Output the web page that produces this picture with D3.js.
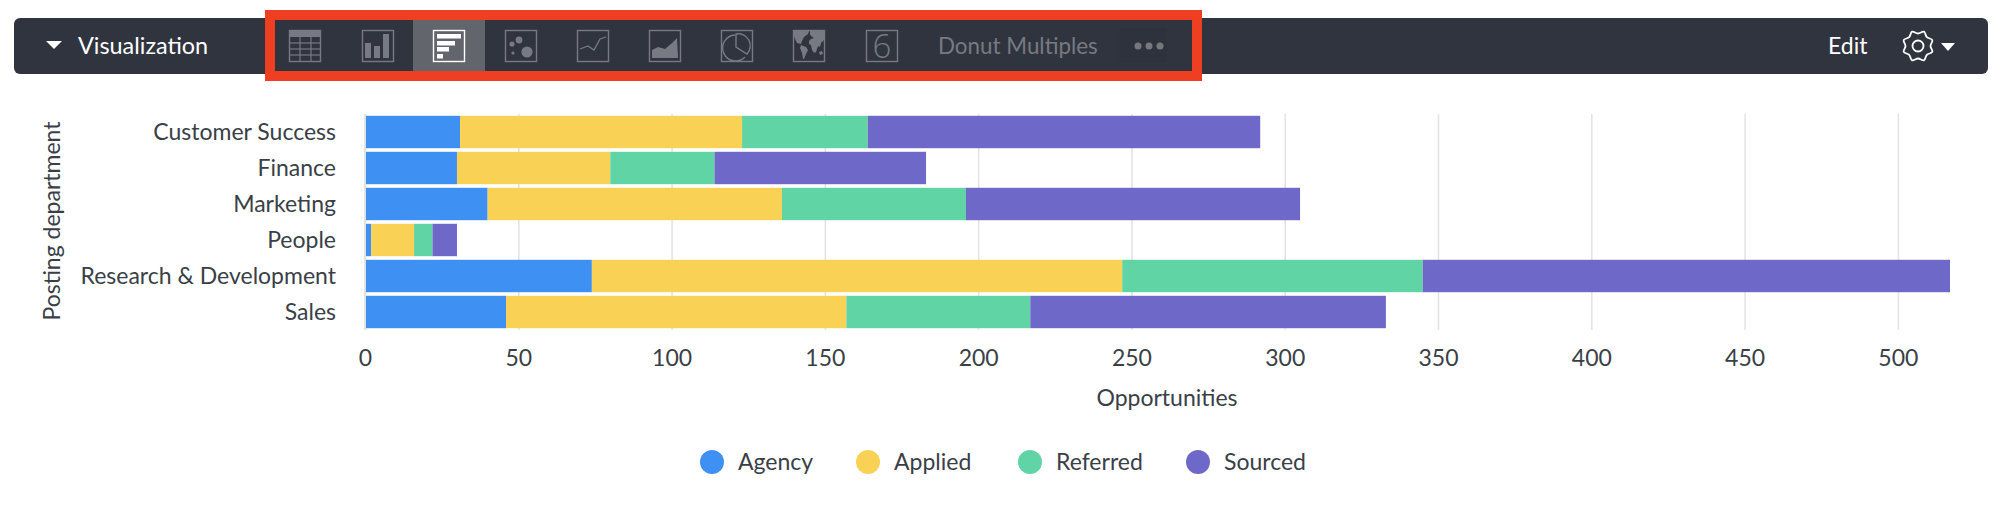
<!DOCTYPE html>
<html><head><meta charset="utf-8">
<script src="https://cdn.jsdelivr.net/npm/d3@7/dist/d3.min.js"></script>
<style>html,body{margin:0;padding:0;background:#fff}svg{display:block}text{font-family:Lato,"Open Sans",sans-serif}</style>
</head><body><svg id="c" width="2001" height="509"></svg>
<script>
const departments=["Customer Success","Finance","Marketing","People","Research & Development","Sales"];
const seriesNames=["Agency","Applied","Referred","Sourced"];
const agency=[31,30,40,2,74,46];
const applied=[92,50,96,14,173,111];
const referred=[41,34,60,6,98,60];
const sourced=[128,69,109,8,172,116];
const xTicks=[0,50,100,150,200,250,300,350,400,450,500];
const colors=["#3E91F3","#F9D255","#60D4A4","#6E69C9"];
const toolbarLabel="Visualization", extraLabel="Donut Multiples", editLabel="Edit";
const xTitle="Opportunities", yTitle="Posting department";

const svg=d3.select("#c");
const ink="#3A3F47", fs=23;
const x=d3.scaleLinear().domain([0,517]).range([365,1950]);
const y=d3.scaleBand().domain(departments).range([114,330]).paddingInner(0.1).paddingOuter(0.05);
const rows=departments.map((d,i)=>({dept:d,Agency:agency[i],Applied:applied[i],Referred:referred[i],Sourced:sourced[i]}));
const stack=d3.stack().keys(seriesNames)(rows);

// toolbar
svg.append("rect").attr("x",14).attr("y",18).attr("width",1974).attr("height",56).attr("rx",6).attr("fill","#30343F");
svg.append("path").attr("d","M46 41h16l-8 8z").attr("fill","#fff");
svg.append("text").attr("x",78).attr("y",54).attr("fill","#fff").attr("font-size",23.4).text(toolbarLabel);
// red frame
svg.append("rect").attr("x",270).attr("y",15).attr("width",927).attr("height",61).attr("fill","none").attr("stroke","#EE3F23").attr("stroke-width",10);
svg.append("rect").attr("x",413).attr("y",20).attr("width",72).attr("height",51).attr("fill","#62656C");
const ic="#777A82";
function frame(x0,col){return svg.append("rect").attr("x",x0+.5).attr("y",30.5).attr("width",31).attr("height",31).attr("fill","none").attr("stroke",col||ic).attr("stroke-width",1.4);}
// table icon
svg.append("rect").attr("x",289).attr("y",30).attr("width",32).attr("height",7).attr("fill",ic);
frame(289);
[43,49,55].forEach(v=>svg.append("path").attr("d",`M289 ${v}h32`).attr("stroke",ic).attr("stroke-width",1.2));
[300,311].forEach(v=>svg.append("path").attr("d",`M${v} 30v32`).attr("stroke",ic).attr("stroke-width",1.2));
// column icon
frame(362);
[[365,43,6,15],[374,46,6,12],[383,34,6,24]].forEach(b=>svg.append("rect").attr("x",b[0]).attr("y",b[1]).attr("width",b[2]).attr("height",b[3]).attr("fill",ic));
// bar icon
frame(433,"#fff");
[[437,34,24],[437,41,18],[437,47,12],[437,54,6]].forEach(b=>svg.append("rect").attr("x",b[0]).attr("y",b[1]).attr("width",b[2]).attr("height",4.5).attr("fill","#fff"));
// scatter icon
frame(505);
[[512,44,2.6],[519,40,3.4],[527,52,5.6],[513,53,1.6]].forEach(c=>svg.append("circle").attr("cx",c[0]).attr("cy",c[1]).attr("r",c[2]).attr("fill",ic));
// line icon
frame(577);
svg.append("path").attr("d","M580 49l8-3 6 4 6-11 6-2").attr("fill","none").attr("stroke",ic).attr("stroke-width",1.3);
// area icon
frame(649);
svg.append("path").attr("d","M652 58V50l6-3 7 2 7-6 5-5 1 20z").attr("fill",ic);
// pie icon
frame(721);
svg.append("path").attr("d","M735 35a13 13 0 1 0 10 22 M736 34a12 12 0 0 1 11 20 L736 47z").attr("fill","none").attr("stroke",ic).attr("stroke-width",1.4);
// map icon
frame(793);
svg.append("path").attr("d","M794 31h15l-1 3-4 3-2 4-1 3-4-1-2-4-1-3z M801 45l5 2 2 3-2 4-2 5h-1l-1-6-2-5z M810 31h14v9l-3 3-1 4-2-1-1 3-1 3-2 1-2-3-1-5-2-1 0-3 2-2 3-1-3-2-1-2z M819 52l3-1 1 3-3 1z").attr("fill",ic);
// number icon
frame(866);
svg.append("text").attr("x",882).attr("y",58).attr("text-anchor","middle").attr("font-size",33).attr("font-weight",300).attr("fill",ic).style("font-family","'Open Sans'").text("6");
svg.append("text").attr("x",938).attr("y",54).attr("font-size",22.4).attr("fill","#777A81").text(extraLabel);
svg.append("rect").attr("x",1119).attr("y",28).attr("width",48).attr("height",35).attr("rx",3).attr("fill","#2E323C");
[1138,1149,1160].forEach(c=>svg.append("circle").attr("cx",c).attr("cy",46).attr("r",3.5).attr("fill","#77787C"));
svg.append("text").attr("x",1828).attr("y",54).attr("font-size",23).attr("fill","#fff").text(editLabel);
// gear
const gear=d3.range(16).map(i=>{const a=i/16*2*Math.PI,r=i%2?15.5:12.5;return [1918+r*Math.cos(a),46+r*Math.sin(a)];});
svg.append("path").attr("d",d3.line().curve(d3.curveCardinalClosed)(gear)).attr("fill","none").attr("stroke","#fff").attr("stroke-width",1.8);
svg.append("circle").attr("cx",1918).attr("cy",46).attr("r",5.5).attr("fill","none").attr("stroke","#fff").attr("stroke-width",1.8);
svg.append("path").attr("d","M1941 43h14l-7 8z").attr("fill","#fff");

// grid and axis
const xAxisG=svg.append("g").attr("transform","translate(0,330)")
  .call(d3.axisBottom(x).tickValues(xTicks).tickSize(-216).tickPadding(20).tickFormat(d3.format("d")));
xAxisG.select(".domain").remove();
xAxisG.selectAll("line").attr("stroke","#E3E4E6").attr("stroke-width",1.6);
xAxisG.selectAll("text").attr("font-size",fs).attr("fill",ink).attr("font-family","Lato");
svg.append("path").attr("d",`M${x(0)} 114V330`).attr("stroke","#DDE0E4").attr("stroke-width",1.6);

// bars
svg.append("g").selectAll("g").data(stack).join("g").attr("fill",(d,i)=>colors[i])
 .selectAll("rect").data(d=>d).join("rect")
 .attr("x",d=>x(d[0])+(d[0]===0?1:0)).attr("y",d=>y(d.data.dept)).attr("width",d=>x(d[1])-x(d[0])-(d[0]===0?1:0)).attr("height",y.bandwidth());

// y axis labels
const yAxisG=svg.append("g").attr("transform","translate(336,1)").call(d3.axisLeft(y).tickSize(0).tickPadding(0));
yAxisG.select(".domain").remove();
yAxisG.selectAll("text").attr("font-size",fs).attr("fill",ink).attr("font-family","Lato");

svg.append("text").attr("x",1167).attr("y",405.5).attr("text-anchor","middle").attr("font-size",fs).attr("fill",ink).text(xTitle);
svg.append("text").attr("transform","translate(60,221) rotate(-90)").attr("text-anchor","middle").attr("font-size",fs).attr("fill",ink).text(yTitle);

// legend
const legendX=[712,868,1030,1198];
const lg=svg.append("g").selectAll("g").data(seriesNames).join("g").attr("transform",(d,i)=>`translate(${legendX[i]},462)`);
lg.append("circle").attr("r",12).attr("fill",(d,i)=>colors[i]);
lg.append("text").attr("x",26).attr("y",8).attr("font-size",fs).attr("fill",ink).text(d=>d);
</script></body></html>
